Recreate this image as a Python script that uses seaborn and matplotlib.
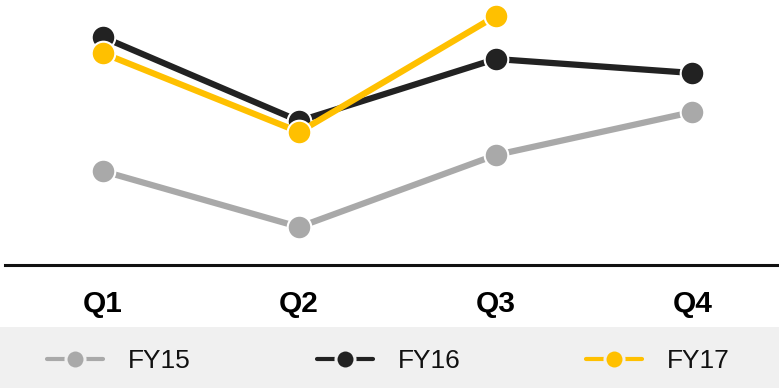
import matplotlib
matplotlib.use("Agg")
import matplotlib.pyplot as plt
from matplotlib.lines import Line2D
from matplotlib.patches import Rectangle
import seaborn as sns
import pandas as pd

quarters = ["Q1", "Q2", "Q3", "Q4"]
fy15 = [94, 38, 110, 153]
fy16 = [228, 144, 206, 192]
fy17 = [212, 133, 249]
series_names = ["FY15", "FY16", "FY17"]
colors = {"FY15": "#a9a9a9", "FY16": "#222222", "FY17": "#ffc000"}

rows = []
for name, vals in zip(series_names, [fy15, fy16, fy17]):
    for q, v in zip(quarters, vals):
        rows.append({"quarter": q, "value": v, "year": name})
df = pd.DataFrame(rows)

sns.set_theme(style="white")
plt.rcParams["font.family"] = ["Liberation Sans", "DejaVu Sans"]

W, H = 779, 388
fig = plt.figure(figsize=(W / 100, H / 100), dpi=100)
fig.add_artist(Rectangle((0, 0), 1, 61 / H, transform=fig.transFigure,
                         facecolor="#f0f0f0", edgecolor="none", zorder=0))

ax = fig.add_axes([5 / W, (H - 265) / H, 774 / W, 265 / H])
ax.set_facecolor("none")
sns.lineplot(data=df, x="quarter", y="value", hue="year", hue_order=series_names,
             palette=colors, marker="o", markersize=17, linewidth=4.5,
             markeredgecolor="white", markeredgewidth=1.5, legend=False, ax=ax,
             sort=False)
ax.set_xlim(-0.496, 3.44)
ax.set_ylim(0, 265)
ax.set_xlabel("")
ax.set_ylabel("")
ax.set_yticks([])
for s in ["top", "left", "right"]:
    ax.spines[s].set_visible(False)
ax.spines["bottom"].set_linewidth(2.2)
ax.spines["bottom"].set_color("#111111")
ax.set_xticks(range(len(quarters)))
ax.set_xticklabels(quarters, fontsize=21.5, fontweight="bold", color="#000000")
ax.tick_params(axis="x", length=0, pad=18)
for line in ax.lines:
    line.set_clip_on(False)

handles = [Line2D([], [], color=colors[n], lw=3, marker="o", markersize=13.7,
                  markeredgecolor="#f0f0f0", markeredgewidth=2.2) for n in series_names]
fig.legend(handles, series_names, loc="center left",
           bbox_to_anchor=(47 / W, 1 - 361 / H), ncol=3, frameon=False,
           fontsize=19, handlelength=2.12, handletextpad=0.95,
           columnspacing=4.77, borderpad=0, borderaxespad=0, labelcolor="#111111")

fig.savefig("out.png", dpi=100)
